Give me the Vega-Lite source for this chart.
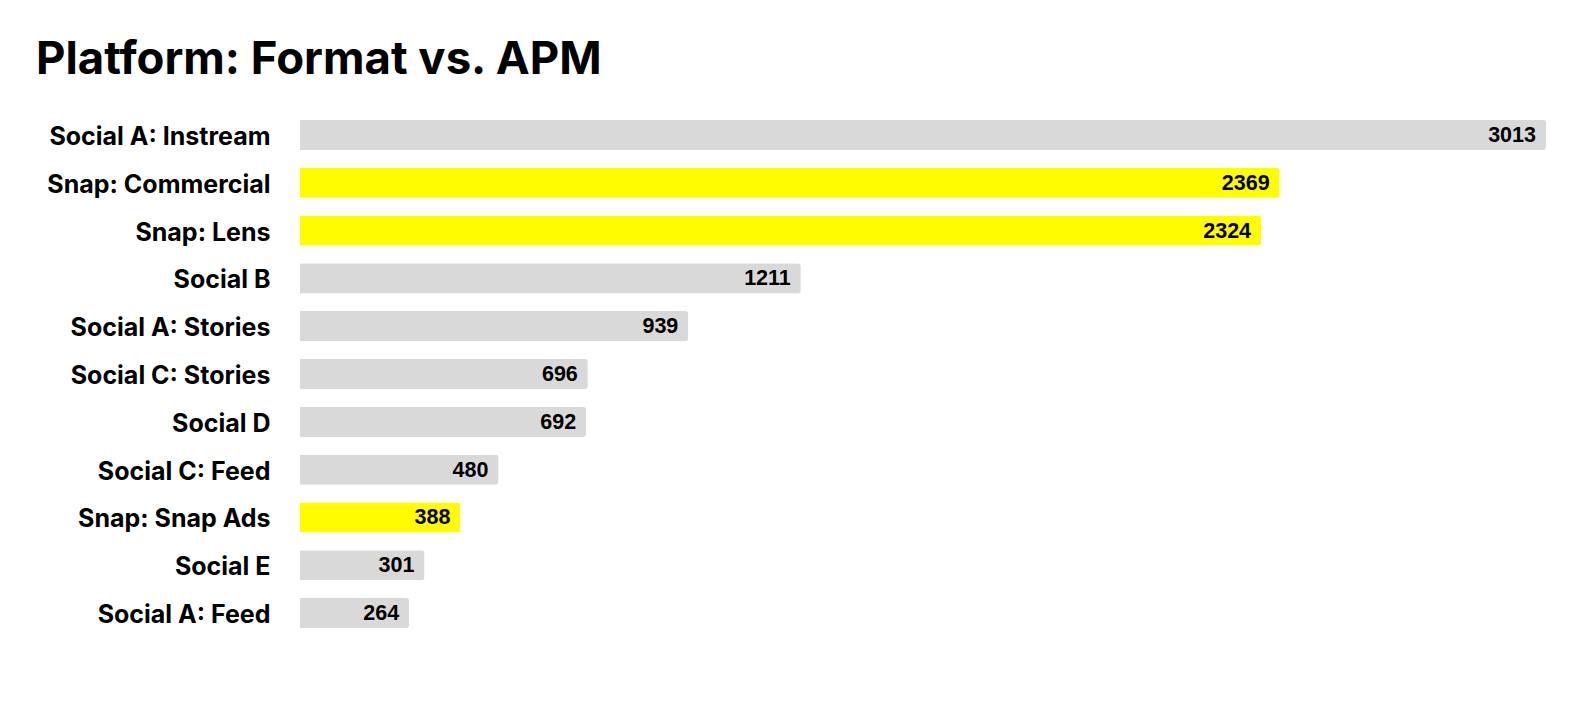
{
  "$schema": "https://vega.github.io/schema/vega-lite/v6.json",
  "width": 1246,
  "height": 526,
  "autosize": {"type": "none"},
  "padding": {"left": 300, "top": 111, "right": 34, "bottom": 81},
  "background": "white",
  "title": {
    "text": "Platform: Format vs. APM",
    "anchor": "start",
    "frame": "group",
    "dx": -264,
    "font": "Inter",
    "fontSize": 45.5,
    "fontWeight": "bold",
    "color": "#000000",
    "offset": 28
  },
  "data": {
    "values": [
      {"label": "Social A: Instream", "apm": 3013, "snap": "no"},
      {"label": "Snap: Commercial", "apm": 2369, "snap": "yes"},
      {"label": "Snap: Lens", "apm": 2324, "snap": "yes"},
      {"label": "Social B", "apm": 1211, "snap": "no"},
      {"label": "Social A: Stories", "apm": 939, "snap": "no"},
      {"label": "Social C: Stories", "apm": 696, "snap": "no"},
      {"label": "Social D", "apm": 692, "snap": "no"},
      {"label": "Social C: Feed", "apm": 480, "snap": "no"},
      {"label": "Snap: Snap Ads", "apm": 388, "snap": "yes"},
      {"label": "Social E", "apm": 301, "snap": "no"},
      {"label": "Social A: Feed", "apm": 264, "snap": "no"}
    ]
  },
  "encoding": {
    "y": {
      "field": "label",
      "type": "nominal",
      "sort": null,
      "scale": {"paddingInner": 0.37, "paddingOuter": 0.185},
      "axis": {
        "title": null,
        "domain": false,
        "ticks": false,
        "grid": false,
        "labelPadding": 30,
        "labelOffset": 2,
        "labelFont": "Inter",
        "labelFontSize": 25,
        "labelFontWeight": "bold",
        "labelColor": "#000000",
        "labelLimit": 400
      }
    },
    "x": {
      "field": "apm",
      "type": "quantitative",
      "scale": {"domain": [0, 3013], "nice": false},
      "axis": null
    }
  },
  "layer": [
    {
      "mark": {"type": "bar", "cornerRadiusEnd": 3},
      "encoding": {
        "color": {
          "field": "snap",
          "type": "nominal",
          "scale": {"domain": ["no", "yes"], "range": ["#d9d9d9", "#fffc00"]},
          "legend": null
        }
      }
    },
    {
      "mark": {
        "type": "text",
        "align": "right",
        "baseline": "middle",
        "dx": -10,
        "dy": 1,
        "font": "Liberation Sans",
        "fontSize": 21.5,
        "fontWeight": "bold",
        "color": "#000000"
      },
      "encoding": {"text": {"field": "apm", "type": "quantitative"}}
    }
  ],
  "config": {"view": {"stroke": null}}
}
